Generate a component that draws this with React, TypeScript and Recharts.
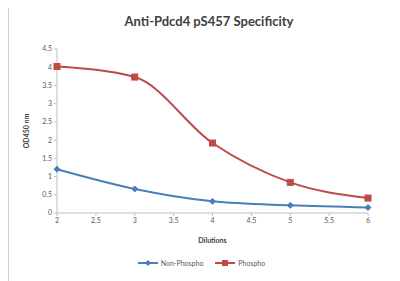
import { LineChart, Line, XAxis, YAxis, Legend, Label } from "recharts";

const dilutions = [2, 3, 4, 5, 6];
const nonPhospho = [1.2, 0.66, 0.32, 0.21, 0.15];
const phospho = [4.02, 3.73, 1.92, 0.84, 0.41];
const xTicks = [2, 2.5, 3, 3.5, 4, 4.5, 5, 5.5, 6];
const yTicks = [0, 0.5, 1, 1.5, 2, 2.5, 3, 3.5, 4, 4.5];

const data = dilutions.map((d, i) => ({
  dilution: d,
  nonPhospho: nonPhospho[i],
  phospho: phospho[i],
}));

const BLUE = "#4a7ebb";
const RED = "#be4b48";

const tickStyle = { fontSize: 7, fill: "#595959", fontFamily: "Lato" };

const Diamond = (props: any) => {
  const { cx, cy } = props;
  if (cx == null || cy == null) return null;
  const s = 3;
  return (
    <path
      d={`M${cx},${cy - s}L${cx + s},${cy}L${cx},${cy + s}L${cx - s},${cy}Z`}
      fill={BLUE}
      stroke={BLUE}
    />
  );
};

const Square = (props: any) => {
  const { cx, cy } = props;
  if (cx == null || cy == null) return null;
  return <rect x={cx - 3} y={cy - 3} width={6} height={6} fill={RED} stroke={RED} />;
};

const LegendContent = () => (
  <div
    style={{
      position: "relative",
      top: 10,
      display: "flex",
      justifyContent: "center",
      gap: 12,
      fontSize: 7,
      color: "#595959",
      fontFamily: "Lato",
      paddingLeft: 12,
    }}
  >
    <span style={{ display: "flex", alignItems: "center", gap: 3 }}>
      <svg width={20} height={8}>
        <line x1={0} y1={4} x2={20} y2={4} stroke={BLUE} strokeWidth={2} />
        <path d="M10,1L13,4L10,7L7,4Z" fill={BLUE} />
      </svg>
      Non-Phospho
    </span>
    <span style={{ display: "flex", alignItems: "center", gap: 3 }}>
      <svg width={20} height={8}>
        <line x1={0} y1={4} x2={20} y2={4} stroke={RED} strokeWidth={2} />
        <rect x={7} y={1} width={6} height={6} fill={RED} />
      </svg>
      Phospho
    </span>
  </div>
);

const App = () => {
  return (
    <div
      style={{
        position: "relative",
        width: 390,
        height: 275,
        marginTop: -3,
        borderLeft: "1px solid #d0d0d0",
        borderTop: "1px solid #e0e0e0",
        fontFamily: "Lato",
      }}
    >
      <div
        style={{
          position: "absolute",
          top: 7,
          left: 0,
          width: 400,
          textAlign: "center",
          fontWeight: 700,
          fontSize: 13,
          color: "#404040",
        }}
      >
        Anti-Pdcd4 pS457 Specificity
      </div>
      <LineChart
        width={390}
        height={270}
        data={data}
        margin={{ top: 43, right: 31, left: 14, bottom: 5 }}
      >
        <XAxis
          dataKey="dilution"
          type="number"
          domain={[2, 6]}
          ticks={xTicks}
          tick={tickStyle}
          tickLine={{ stroke: "#bfbfbf" }}
          axisLine={{ stroke: "#bfbfbf" }}
          tickSize={3}
          height={36}
        >
          <Label
            value="Dilutions"
            position="insideBottom"
            offset={6}
            style={{ fontSize: 7, fontWeight: 700, fill: "#404040" }}
          />
        </XAxis>
        <YAxis
          type="number"
          domain={[0, 4.5]}
          ticks={yTicks}
          tick={tickStyle}
          tickLine={{ stroke: "#bfbfbf" }}
          axisLine={{ stroke: "#bfbfbf" }}
          tickSize={3}
          width={34}
        >
          <Label
            value="OD450 nm"
            angle={-90}
            position="insideLeft"
            offset={4}
            style={{ fontSize: 7, fontWeight: 700, fill: "#404040", textAnchor: "middle" }}
          />
        </YAxis>
        <Legend verticalAlign="bottom" height={22} content={<LegendContent />} />
        <Line
          name="Non-Phospho"
          dataKey="nonPhospho"
          type="monotone"
          stroke={BLUE}
          strokeWidth={2}
          dot={<Diamond />}
          isAnimationActive={false}
        />
        <Line
          name="Phospho"
          dataKey="phospho"
          type="monotone"
          stroke={RED}
          strokeWidth={2}
          dot={<Square />}
          isAnimationActive={false}
        />
      </LineChart>
    </div>
  );
};

export default App;
